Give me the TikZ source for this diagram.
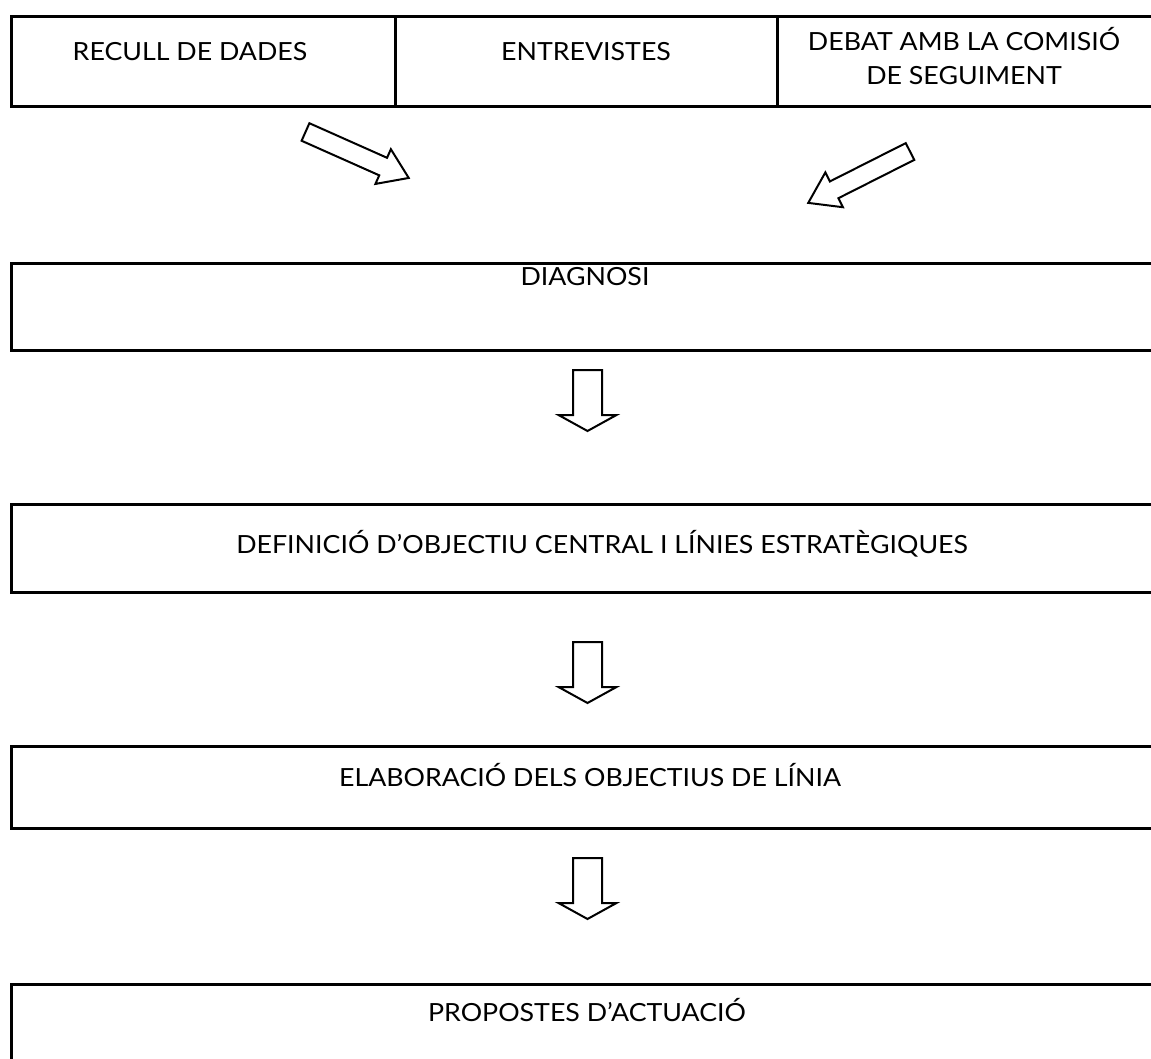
\documentclass[tikz,border=0pt]{standalone}
\usepackage{fontspec}
\setmainfont{Lato}[FakeStretch=1.07]
\begin{document}
\begin{tikzpicture}[x=1pt,y=1pt,
  boxline/.style={line width=3pt},
  barrow/.style={draw, line width=2pt, line join=miter, fill=white},
  lbl/.style={anchor=base, inner sep=0pt, font=\fontsize{25}{34}\selectfont, align=center}]
\useasboundingbox (0,0) rectangle (1151,-1059);
\clip (0,0) rectangle (1151,-1059);
% top row
\node[boxline, draw, anchor=north west, minimum width=384pt, minimum height=90pt, inner sep=0pt] (rec) at (10,-15) {};
\node[boxline, draw, anchor=north west, minimum width=382pt, minimum height=90pt, inner sep=0pt] (ent) at (394,-15) {};
\node[boxline, draw, anchor=north west, minimum width=420pt, minimum height=90pt, inner sep=0pt] (deb) at (776,-15) {};
\node[lbl] (trec) at (190,-61) {RECULL DE DADES};
\node[lbl] (tent) at (586,-61) {ENTREVISTES};
\node[lbl, anchor=north] (tdeb) at (964,-27) {DEBAT AMB LA COMISIÓ\\DE SEGUIMENT};
% main boxes
\node[boxline, draw, anchor=north west, minimum width=1200pt, minimum height=87pt, inner sep=0pt] (diag) at (10,-262) {};
\node[boxline, draw, anchor=north west, minimum width=1200pt, minimum height=88pt, inner sep=0pt] (defi) at (10,-503) {};
\node[boxline, draw, anchor=north west, minimum width=1200pt, minimum height=82pt, inner sep=0pt] (elab) at (10,-745) {};
\node[boxline, draw, anchor=north west, minimum width=1200pt, minimum height=90pt, inner sep=0pt] (prop) at (10,-983) {};
\node[lbl] (tdiag) at (585,-286) {DIAGNOSI};
\node[lbl] (tdefi) at (602,-553) {DEFINICIÓ D’OBJECTIU CENTRAL I LÍNIES ESTRATÈGIQUES};
\node[lbl] (telab) at (590,-786) {ELABORACIÓ DELS OBJECTIUS DE LÍNIA};
\node[lbl] (tprop) at (587,-1021) {PROPOSTES D’ACTUACIÓ};
% slanted block arrows
\draw[barrow, shift={(305.5,-132)}, rotate=-24]
  (0,9.6) -- (85,9.6) -- (85,19) -- (113,0) -- (85,-19) -- (85,-9.6) -- (0,-9.6) -- cycle;
\draw[barrow, shift={(910,-151.5)}, rotate=206.8]
  (0,9.4) -- (85,9.4) -- (85,19.5) -- (114,0) -- (85,-19.5) -- (85,-9.4) -- (0,-9.4) -- cycle;
% down block arrows
\foreach \yy in {370,642,858}{
  \draw[barrow, shift={(587.5,-\yy)}, rotate=-90]
    (0,14.5) -- (45,14.5) -- (45,29) -- (61,0) -- (45,-29) -- (45,-14.5) -- (0,-14.5) -- cycle;
}
\end{tikzpicture}
\end{document}
